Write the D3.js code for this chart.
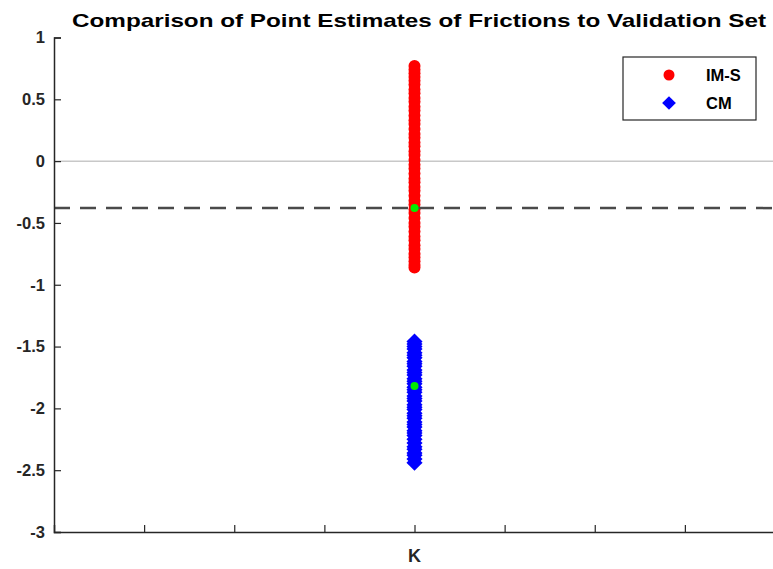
<!DOCTYPE html>
<html>
<head>
<meta charset="utf-8">
<script src="https://cdn.jsdelivr.net/npm/d3@7"></script>
<style>
  html, body { margin: 0; padding: 0; background: #fff; }
  svg { display: block; font-family: "Liberation Sans", Arial, sans-serif; }
</style>
</head>
<body>
<svg id="chart" width="773" height="569"></svg>
<script>
// Chart data
const title = "Comparison of Point Estimates of Frictions to Validation Set";
const category = "K";
const categoryPos = 4;
const xTickPositions = [1, 2, 3, 4, 5, 6, 7];
const yTicks = [1, 0.5, 0, -0.5, -1, -1.5, -2, -2.5, -3];
const yTickLabels = ["1", "0.5", "0", "-0.5", "-1", "-1.5", "-2", "-2.5", "-3"];

// IM-S point estimates of the friction
const imsValues = [0.77, 0.74, 0.71, 0.68, 0.65, 0.62, 0.58, 0.55, 0.51, 0.48, 0.44, 0.41, 0.37, 0.33,
  0.30, 0.26, 0.22, 0.19, 0.15, 0.12, 0.08, 0.05, 0.01, -0.03, -0.06, -0.10, -0.14, -0.17, -0.21,
  -0.24, -0.28, -0.32, -0.35, -0.39, -0.42, -0.46, -0.50, -0.53, -0.57, -0.61, -0.64, -0.68, -0.71,
  -0.75, -0.78, -0.81, -0.84, -0.86];
// CM point estimates of the friction
const cmValues = [-1.46, -1.48, -1.50, -1.52, -1.55, -1.57, -1.59, -1.62, -1.64, -1.66, -1.69, -1.71,
  -1.73, -1.76, -1.78, -1.80, -1.83, -1.85, -1.87, -1.90, -1.92, -1.94, -1.97, -1.99, -2.01, -2.04,
  -2.06, -2.08, -2.11, -2.13, -2.15, -2.18, -2.20, -2.22, -2.25, -2.28, -2.31, -2.33, -2.36, -2.38,
  -2.41, -2.44];
// Validation set value and central estimates
const validationValue = -0.38;
const imsCentre = -0.38;
const cmCentre = -1.82;

const legendItems = [
  { label: "IM-S", shape: "circle", color: "#ff0000" },
  { label: "CM", shape: "diamond", color: "#0000ff" }
];

const svg = d3.select("#chart");
const axisColor = "#262626";

const x = d3.scaleLinear().domain([0, 8]).range([54, 775]);
const y = d3.scaleLinear().domain([-3, 1]).range([532, 37.5]);

// Title
svg.append("text")
  .attr("x", 419).attr("y", 27)
  .attr("text-anchor", "middle")
  .attr("font-size", 19).attr("font-weight", "bold")
  .attr("textLength", 694).attr("lengthAdjust", "spacingAndGlyphs")
  .attr("fill", "#000")
  .text(title);

// Reference line at zero
svg.append("line")
  .attr("x1", x(0)).attr("x2", 773)
  .attr("y1", y(0)).attr("y2", y(0))
  .attr("stroke", "#c8c8c8").attr("stroke-width", 1.5);

// Markers
const gMarks = svg.append("g");
gMarks.selectAll("circle.ims").data(imsValues).join("circle")
  .attr("class", "ims")
  .attr("cx", x(categoryPos)).attr("cy", d => y(d))
  .attr("r", 6).attr("fill", "#ff0000");

const diamond = d3.symbol().type(d3.symbolDiamond2).size(165);
gMarks.selectAll("path.cm").data(cmValues).join("path")
  .attr("class", "cm")
  .attr("transform", d => `translate(${x(categoryPos)},${y(d)})`)
  .attr("d", diamond).attr("fill", "#0000ff");

// Validation set level
svg.append("line")
  .attr("x1", x(0)).attr("x2", 773)
  .attr("y1", y(validationValue)).attr("y2", y(validationValue))
  .attr("stroke", "#4a4a4a").attr("stroke-width", 2.5)
  .attr("stroke-dasharray", "16,10");

// Central estimates
svg.selectAll("circle.centre").data([imsCentre, cmCentre]).join("circle")
  .attr("class", "centre")
  .attr("cx", x(categoryPos)).attr("cy", d => y(d))
  .attr("r", 4).attr("fill", "#00ee00");

// Y axis
const yAxis = svg.append("g")
  .attr("transform", `translate(${x(0)},0)`)
  .call(d3.axisRight(y).tickValues(yTicks).tickSize(7)
    .tickFormat((d, i) => yTickLabels[i]));
yAxis.select(".domain").attr("stroke", axisColor).attr("stroke-width", 1.5);
yAxis.selectAll(".tick line").attr("stroke", axisColor).attr("stroke-width", 1.2);
yAxis.selectAll(".tick text")
  .attr("x", -9).attr("text-anchor", "end")
  .attr("font-size", 16.5).attr("font-weight", "bold")
  .attr("fill", axisColor).attr("font-family", "Liberation Sans, Arial, sans-serif");

// X axis
const xAxis = svg.append("g")
  .attr("transform", `translate(0,${y(-3)})`)
  .call(d3.axisTop(x).tickValues(xTickPositions).tickSize(7).tickFormat(""));
xAxis.select(".domain").attr("stroke", axisColor).attr("stroke-width", 1.5);
xAxis.selectAll(".tick line").attr("stroke", axisColor).attr("stroke-width", 1.2);

svg.append("text")
  .attr("x", x(categoryPos)).attr("y", 562)
  .attr("text-anchor", "middle")
  .attr("font-size", 18).attr("font-weight", "bold")
  .attr("fill", axisColor)
  .text(category);

// Legend
const legend = svg.append("g");
legend.append("rect")
  .attr("x", 623).attr("y", 57).attr("width", 133).attr("height", 63)
  .attr("fill", "#fff").attr("stroke", axisColor).attr("stroke-width", 1.2);
const items = legend.selectAll("g.item").data(legendItems).join("g")
  .attr("class", "item")
  .attr("transform", (d, i) => `translate(0,${75 + i * 28})`);
items.each(function(d) {
  const g = d3.select(this);
  if (d.shape === "circle") {
    g.append("circle").attr("cx", 669).attr("cy", 0).attr("r", 5.5).attr("fill", d.color);
  } else {
    g.append("path").attr("transform", "translate(669,0)")
      .attr("d", d3.symbol().type(d3.symbolDiamond2).size(120)).attr("fill", d.color);
  }
  g.append("text").attr("x", 706).attr("y", 6)
    .attr("font-size", 16.5).attr("font-weight", "bold").attr("fill", "#000")
    .text(d.label);
});
</script>
</body>
</html>
